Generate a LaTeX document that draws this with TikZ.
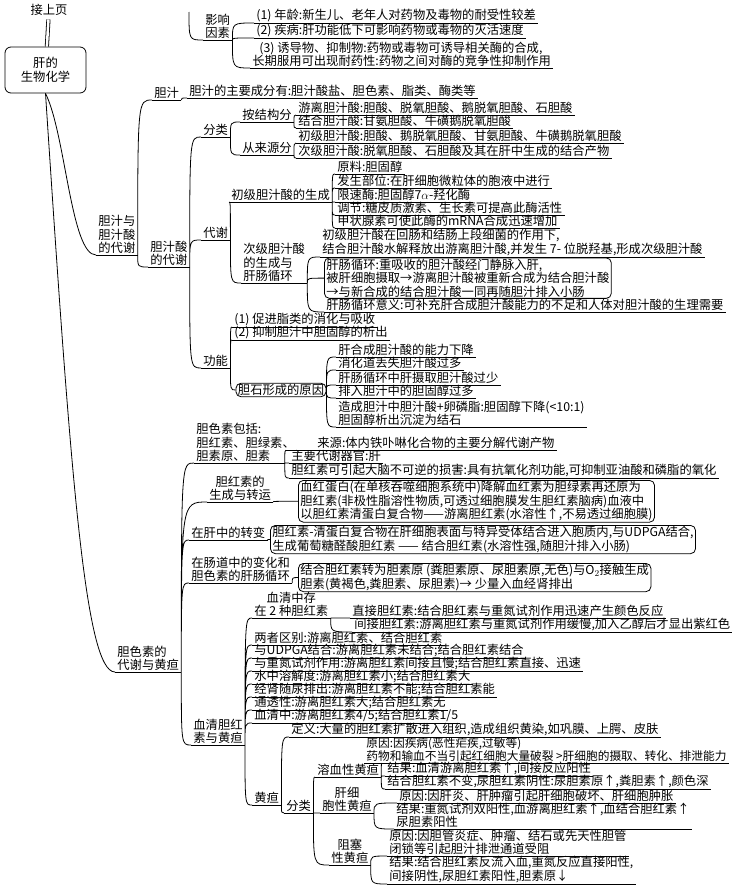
\documentclass[tikz,border=0pt]{standalone}
\usepackage{fontspec}
\usepackage{amsmath}
\usepackage{tikz}
\newfontfamily\cjk{Noto Sans CJK SC}

\begin{document}
\begin{tikzpicture}[x=1pt,y=-1pt,line width=0.8pt,
		every node/.style={font=\cjk\fontsize{12.3}{13.5}\selectfont},
		ul/.style={anchor=south west,inner xsep=2pt,inner ysep=1pt,align=left,
			append after command={(\tikzlastnode.south west) edge (\tikzlastnode.south east)}},
		cent/.style={ul,align=center},
		box/.style={draw,rounded corners=5pt,inner xsep=2pt,inner ysep=1pt,align=left},
		brc/.style={to path={.. controls (\tikztostart |- \tikztotarget) .. (\tikztotarget)}}]
		\path[fill=white,use as bounding box] (0,0) rectangle (731,894); % foglio
		
		% Testata e radice
		\node (top) at (49,10) {接上页}; % rimando
		\node[draw,rounded corners=6pt,minimum width=81pt,minimum height=46pt,align=center] (root) at (45.5,70) {肝的\\生物化学}; % radice
		\draw[double distance=2.5pt] (top) -- (root);
		
		% Fattori (dalla pagina prima)
		\coordinate (prev) at (189,12); % ramo che arriva dall'alto
		\node[cent] (yx) at (203,40) {影响\\因素};
		\node[ul] (f1) at (254,23) {(1) 年龄:新生儿、老年人对药物及毒物的耐受性较差};
		\node[ul] (f2) at (254,38) {(2) 疾病:肝功能低下可影响药物或毒物的灭活速度};
		\node[ul] (f3) at (250,68) {\hspace*{7pt}(3) 诱导物、抑制物:药物或毒物可诱导相关酶的合成,\\长期服用可出现耐药性:药物之间对酶的竞争性抑制作用};
		\draw (prev) to[brc] (yx.south west);
		\draw (yx.south east) to[brc] (f1.south west) (yx.south east) to[brc] (f2.south west) (yx.south east) to[brc] (f3.south west);
		
		% Bile e acidi biliari
		\node[ul] (dz) at (96,255) {胆汁与\\胆汁酸\\的代谢};
		\node[ul] (dzz) at (152,100) {胆汁};
		\node[ul] (cf) at (187,98) {胆汁的主要成分有:胆汁酸盐、胆色素、脂类、酶类等};
		\node[ul] (dzs) at (148,267) {胆汁酸\\的代谢};
		\node[ul] (fl) at (201,137) {分类};
		\node[ul] (ajg) at (240,122) {按结构分};
		\node[ul] (yl) at (296,115) {游离胆汁酸:胆酸、脱氧胆酸、鹅脱氧胆酸、石胆酸};
		\node[ul] (jh) at (296,128) {结合胆汁酸:甘氨胆酸、牛磺鹅脱氧胆酸};
		\node[ul] (cly) at (240,155) {从来源分};
		\node[ul] (cj) at (296,143) {初级胆汁酸:胆酸、鹅脱氧胆酸、甘氨胆酸、牛磺鹅脱氧胆酸};
		\node[ul] (cjj) at (296,158) {次级胆汁酸:脱氧胆酸、石胆酸及其在肝中生成的结合产物};
		\node[ul] (dx) at (201,240) {代谢};
		\node[ul] (cs) at (229,202) {初级胆汁酸的生成};
		\node[ul] (yl2) at (335,174) {原料:胆固醇};
		\node[ul] (fs) at (335,188) {发生部位:在肝细胞微粒体的胞液中进行};
		\node[ul] (xs) at (335,202) {限速酶:胆固醇7$\alpha$-羟化酶};
		\node[ul] (tj) at (335,215) {调节:糖皮质激素、生长素可提高此酶活性};
		\node[ul] (jz) at (335,228) {甲状腺素可使此酶的mRNA合成迅速增加};
		\node[ul] (cjs) at (241,283) {次级胆汁酸\\的生成与\\肝肠循环};
		\node[ul] (hc) at (320,257) {初级胆汁酸在回肠和结肠上段细菌的作用下,\\结合胆汁酸水解释放出游离胆汁酸,并发生 7- 位脱羟基,形成次级胆汁酸};
		\node[box,anchor=north west] (gc) at (324,257.5) {肝肠循环:重吸收的胆汁酸经门静脉入肝,\\被肝细胞摄取→游离胆汁酸被重新合成为结合胆汁酸\\→与新合成的结合胆汁酸一同再随胆汁排入小肠};
		\node[ul] (yy) at (324,312) {肝肠循环意义:可补充肝合成胆汁酸能力的不足和人体对胆汁酸的生理需要};
		\node[ul] (gn) at (201,368) {功能};
		\node[ul] (g1) at (232,327) {(1) 促进脂类的消化与吸收};
		\node[ul] (g2) at (232,340) {(2) 抑制胆汁中胆固醇的析出};
		\node[box] (ys) at (281,390) {胆石形成的原因};
		\node[ul] (y1) at (336,357) {肝合成胆汁酸的能力下降};
		\node[ul] (y2) at (336,370) {消化道丢失胆汁酸过多};
		\node[ul] (y3) at (336,385) {肝肠循环中肝摄取胆汁酸过少};
		\node[ul] (y4) at (336,398) {排入胆汁中的胆固醇过多};
		\node[ul] (y5) at (336,427) {造成胆汁中胆汁酸+卵磷脂:胆固醇下降(<10:1)\\胆固醇析出沉淀为结石};
		
		\draw (root.south) .. controls +(20,40) and +(-25,0) .. (dz.south west);
		\draw (dz.south east) to[brc] (dzz.south west) (dz.south east) to[brc] (dzs.south west);
		\draw (dzz.south east) to[brc] (cf.south west);
		\draw (dzs.south east) to[brc] (fl.south west) (dzs.south east) to[brc] (dx.south west) (dzs.south east) to[brc] (gn.south west);
		\draw (fl.south east) to[brc] (ajg.south west) (fl.south east) to[brc] (cly.south west);
		\draw (ajg.south east) to[brc] (yl.south west) (ajg.south east) to[brc] (jh.south west);
		\draw (cly.south east) to[brc] (cj.south west) (cly.south east) to[brc] (cjj.south west);
		\draw (dx.south east) to[brc] (cs.south west) (dx.south east) to[brc] (cjs.south west);
		\draw (cs.south east) to[brc] (yl2.south west) (cs.south east) to[brc] (fs.south west) (cs.south east) to[brc] (xs.south west)
			(cs.south east) to[brc] (tj.south west) (cs.south east) to[brc] (jz.south west);
		\draw (cjs.south east) to[brc] (hc.south west) (cjs.south east) to[brc] (gc.west) (cjs.south east) to[brc] (yy.south west);
		\draw (gn.south east) to[brc] (g1.south west) (gn.south east) to[brc] (g2.south west) (gn.south east) to[brc] (ys.west);
		\draw (ys.east) to[brc] (y1.south west) (ys.east) to[brc] (y2.south west) (ys.east) to[brc] (y3.south west)
			(ys.east) to[brc] (y4.south west) (ys.east) to[brc] (y5.south west);
		
		% Pigmenti biliari e ittero
		\node[ul] (ds) at (115,672) {胆色素的\\代谢与黄疸};
		\node[ul,text width=86pt] (bs) at (194,463) {胆色素包括:\\胆红素、胆绿素、\\胆素原、胆素};
		\node[ul] (ly) at (286,450) {\hspace*{29pt}来源:体内铁卟啉化合物的主要分解代谢产物};
		\node[ul] (zy) at (289,463) {主要代谢器官:肝};
		\node[ul] (ss) at (289,478) {胆红素可引起大脑不可逆的损害:具有抗氧化剂功能,可抑制亚油酸和磷脂的氧化};
		\node[cent] (sc) at (207,502) {胆红素的\\生成与转运};
		\node[box,anchor=north west] (hb) at (298,480) {血红蛋白(在单核吞噬细胞系统中)降解血红素为胆绿素再还原为\\胆红素(非极性脂溶性物质,可透过细胞膜发生胆红素脑病)血液中\\以胆红素清蛋白复合物——游离胆红素(水溶性↑,不易透过细胞膜)};
		\node[ul] (gz) at (189,540) {在肝中的转变};
		\node[box,anchor=north west] (hz) at (270,525) {胆红素-清蛋白复合物在肝细胞表面与特异受体结合进入胞质内,与UDPGA结合,\\生成葡萄糖醛酸胆红素 —— 结合胆红素(水溶性强,随胆汁排入小肠)};
		\node[ul] (cd) at (189,583) {在肠道中的变化和\\胆色素的肝肠循环};
		\node[box,anchor=north west] (jb) at (298,563) {结合胆红素转为胆素原 (粪胆素原、尿胆素原,无色)与O$_2$接触生成\\胆素(黄褐色,粪胆素、尿胆素)→ 少量入血经肾排出};
		\node[ul] (xq) at (191,745) {血清胆红\\素与黄疸};
		\node[cent] (xqz) at (252,618) {血清中存\\在 2 种胆红素};
		\node[ul] (zj) at (350,618) {直接胆红素:结合胆红素与重氮试剂作用迅速产生颜色反应};
		\node[ul] (jj) at (352,632) {间接胆红素:游离胆红素与重氮试剂作用缓慢,加入乙醇后才显出紫红色};
		\node[ul] (lz) at (252,645) {两者区别:游离胆红素、结合胆红素};
		\node[ul] (ud) at (252,658) {与UDPGA结合:游离胆红素未结合;结合胆红素结合};
		\node[ul] (zd) at (252,671) {与重氮试剂作用:游离胆红素间接且慢;结合胆红素直接、迅速};
		\node[ul] (sr) at (252,684) {水中溶解度:游离胆红素小;结合胆红素大};
		\node[ul] (js) at (252,697) {经肾随尿排出:游离胆红素不能;结合胆红素能};
		\node[ul] (tt) at (252,710) {通透性:游离胆红素大;结合胆红素无};
		\node[ul] (xz) at (252,723) {血清中:游离胆红素4/5;结合胆红素1/5};
		\node[ul] (hd) at (252,805) {黄疸};
		\node[ul] (dy) at (289,737) {定义:大量的胆红素扩散进入组织,造成组织黄染,如巩膜、上腭、皮肤};
		\node[ul] (fl2) at (284,813) {分类};
		\node[ul] (rx) at (315,777) {溶血性黄疸};
		\node[ul,font=\cjk\fontsize{11.7}{13.5}\selectfont] (ry) at (364,763) {原因:因疾病(恶性疟疾,过敏等)\\药物和输血不当引起红细胞大量破裂 >肝细胞的摄取、转化、排泄能力};
		\coordinate (ryc) at ([xshift=18pt]ry.south west); % attacco sul tratto
		\node[ul] (rj1) at (385,776) {结果:血清游离胆红素↑,间接反应阳性};
		\node[ul] (rj2) at (385,789) {结合胆红素不变,尿胆红素阴性:尿胆素原↑,粪胆素↑,颜色深};
		\node[cent] (gx) at (320,813) {肝细\\胞性黄疸};
		\node[ul] (gy) at (397,803) {原因:因肝炎、肝肿瘤引起肝细胞破坏、肝细胞肿胀};
		\node[ul] (gj) at (394,829) {结果:重氮试剂双阳性,血游离胆红素↑,血结合胆红素↑\\尿胆素阳性};
		\node[cent] (zs) at (329,865) {阻塞\\性黄疸};
		\node[ul] (zy2) at (387,856) {原因:因胆管炎症、肿瘤、结石或先天性胆管\\闭锁等引起胆汁排泄通道受阻};
		\node[ul] (zj2) at (387,884) {结果:结合胆红素反流入血,重氮反应直接阳性,\\间接阴性,尿胆红素阳性,胆素原↓};
		
		\draw (root.south) .. controls +(25,380) and +(-30,0) .. (ds.south west);
		\draw (ds.south east) to[brc] (bs.south west) (ds.south east) to[brc] (sc.south west) (ds.south east) to[brc] (gz.south west)
			(ds.south east) to[brc] (cd.south west) (ds.south east) to[brc] (xq.south west);
		\draw (bs.south east) to[brc] (ly.south west) (bs.south east) to[brc] (zy.south west) (bs.south east) to[brc] (ss.south west);
		\draw (sc.south east) to[brc] (hb.west);
		\draw (gz.south east) to[brc] (hz.west);
		\draw (cd.south east) to[brc] (jb.west);
		\draw (xq.south east) to[brc] (xqz.south west) (xq.south east) to[brc] (lz.south west) (xq.south east) to[brc] (ud.south west)
			(xq.south east) to[brc] (zd.south west) (xq.south east) to[brc] (sr.south west) (xq.south east) to[brc] (js.south west)
			(xq.south east) to[brc] (tt.south west) (xq.south east) to[brc] (xz.south west) (xq.south east) to[brc] (hd.south west);
		\draw (xqz.south east) to[brc] (zj.south west) (xqz.south east) to[brc] (jj.south west);
		\draw (hd.south east) to[brc] (dy.south west) (hd.south east) to[brc] (fl2.south west);
		\draw (fl2.south east) to[brc] (rx.south west) (fl2.south east) to[brc] (gx.south west) (fl2.south east) to[brc] (zs.south west);
		\draw (rx.south east) to[brc] (ryc) (rx.south east) to[brc] (rj1.south west) (rx.south east) to[brc] (rj2.south west);
		\draw (gx.south east) to[brc] (gy.south west) (gx.south east) to[brc] (gj.south west);
		\draw (zs.south east) to[brc] (zy2.south west) (zs.south east) to[brc] (zj2.south west);
	\end{tikzpicture}
\end{document}
